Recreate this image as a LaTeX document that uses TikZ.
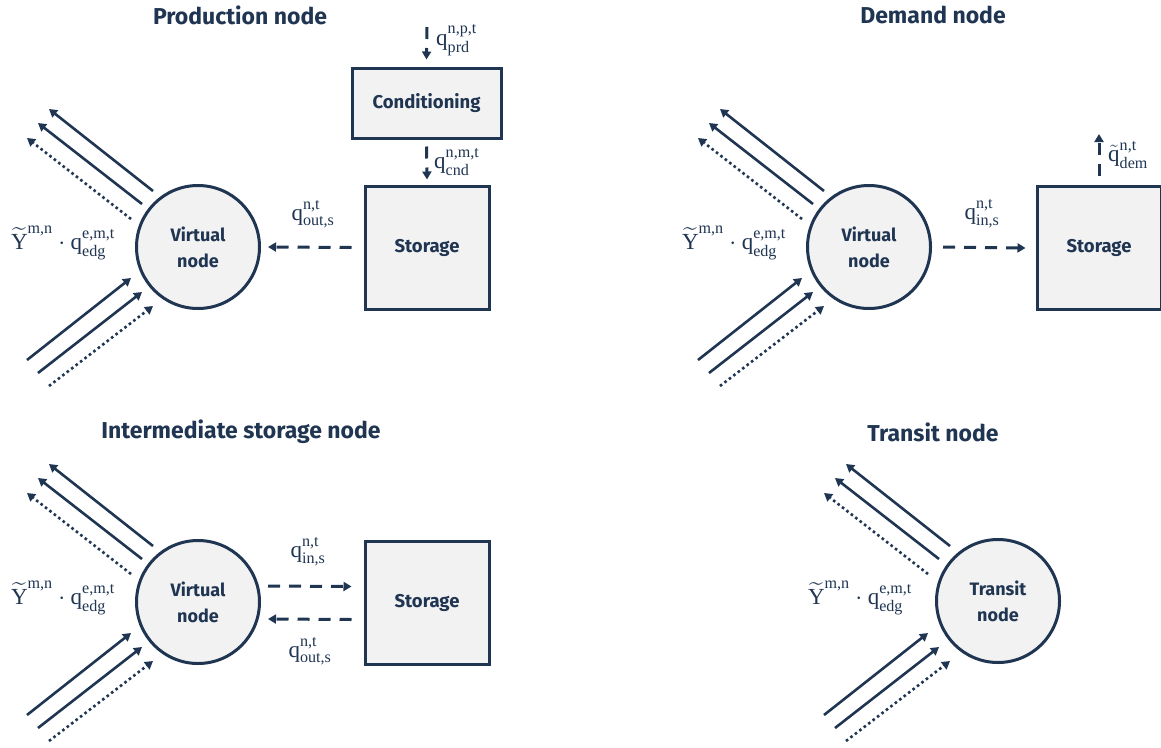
\documentclass[tikz,border=0pt]{standalone}
\usepackage{amsmath}
\usepackage{fontspec}
\setmainfont{Fira Sans}
\newfontfamily\symserif{Liberation Serif}
\usetikzlibrary{arrows.meta}
\definecolor{navy}{HTML}{1F3552}
\definecolor{boxfill}{HTML}{F2F2F2}
% upright serif quantities with stacked scripts
\newcommand\sv[1]{\text{\symserif #1}}
\newcommand\qty[3]{$#1^{\sv{#2}}_{\sv{#3}}$}
\newcommand\flowlabel{$\widetilde{\sv{Y}}^{\sv{m,n}}\cdot\sv{q}^{\sv{e,m,t}}_{\sv{edg}}$}
% bundle of edge arrows on the left of a hub node; #1 = name prefix
\newcommand\edgebundle[1]{%
  \coordinate (#1a1) at (153,191); \coordinate (#1b1) at (49,109);
  \coordinate (#1a2) at (142,204); \coordinate (#1b2) at (38,123);
  \coordinate (#1a3) at (131,219); \coordinate (#1b3) at (27,138);
  \coordinate (#1c1) at (27,360);  \coordinate (#1d1) at (131,278);
  \coordinate (#1c2) at (38,373);  \coordinate (#1d2) at (142,292);
  \coordinate (#1c3) at (49,386);  \coordinate (#1d3) at (153,306);
  \draw[edgearrow] (#1a1) -- (#1b1);
  \draw[edgearrow] (#1a2) -- (#1b2);
  \draw[edgearrow,dotarrow] (#1a3) -- (#1b3);
  \draw[edgearrow] (#1c1) -- (#1d1);
  \draw[edgearrow] (#1c2) -- (#1d2);
  \draw[edgearrow,dotarrow] (#1c3) -- (#1d3);
  \node[mathlbl] (#1lbl) at (63,243) {\flowlabel};
}
\begin{document}
\begin{tikzpicture}[x=1pt,y=-1pt,
  every node/.style={text=navy},
  title/.style={font=\fontsize{23}{26}\selectfont\bfseries},
  hub/.style={circle,draw=navy,fill=boxfill,line width=3pt,minimum size=123pt,
    inner sep=0pt,align=center,font=\fontsize{18}{26}\selectfont\bfseries},
  unit/.style={rectangle,draw=navy,fill=boxfill,line width=3pt,inner sep=0pt,
    align=center,font=\fontsize{18.5}{22}\selectfont\bfseries},
  mathlbl/.style={font=\fontsize{23}{25}\selectfont,inner sep=0pt},
  tip/.style={-{Triangle[length=8pt,width=9pt]}},
  edgearrow/.style={draw=navy,line width=2.6pt,tip},
  dotarrow/.style={dash pattern=on 2.6pt off 3pt},
  dasharrow/.style={draw=navy,line width=3pt,tip,dash pattern=on 12pt off 9pt},
]
\useasboundingbox (0,0) rectangle (1161,747);

% ---------- production node ----------
\node[title] (t1) at (240,15) {Production node};
\node[hub] (vn1) at (198,247) {Virtual\\node};
\node[unit,minimum width=124pt,minimum height=123pt] (st1) at (427,247.5) {Storage};
\node[unit,minimum width=149pt,minimum height=70pt] (cd1) at (426.5,103) {Conditioning};
\coordinate (prd) at (427,27);
\draw[dasharrow] (prd) -- ([yshift=7pt]cd1.north);
\draw[dasharrow] ([yshift=-7pt]cd1.south) -- ([yshift=5pt]st1.north);
\draw[dasharrow] ([xshift=-12pt]st1.west) -- ([xshift=7pt]vn1.east);
\node[mathlbl,anchor=west] (lprd) at (436,40) {\qty{\sv{q}}{n,p,t}{prd}};
\node[mathlbl,anchor=west] (lcnd) at (434,162) {\qty{\sv{q}}{n,m,t}{cnd}};
\node[mathlbl] (lout1) at (313,214) {\qty{\sv{q}}{n,t}{out,s}};
\begin{scope}
  \edgebundle{p}
\end{scope}

% ---------- demand node ----------
\node[title] (t2) at (933,15) {Demand node};
\node[hub] (vn2) at (869,247) {Virtual\\node};
\node[unit,minimum width=124pt,minimum height=123pt] (st2) at (1099,248) {Storage};
\coordinate (dem) at (1099,134);
\draw[dasharrow] ([yshift=9pt]st2.north) -- (dem);
\draw[dasharrow] ([xshift=11pt]vn2.east) -- ([xshift=-10pt]st2.west);
\node[mathlbl,anchor=west] (ldem) at (1108,155) {\qty{\tilde{\sv{q}}}{n,t}{dem}};
\node[mathlbl] (lin2) at (982,214) {\qty{\sv{q}}{n,t}{in,s}};
\begin{scope}[shift={(671,0)}]
  \edgebundle{d}
\end{scope}

% ---------- intermediate storage node ----------
\node[title] (t3) at (241,432) {Intermediate storage node};
\node[hub] (vn3) at (198,602) {Virtual\\node};
\node[unit,minimum width=124pt,minimum height=123pt] (st3) at (427,602.5) {Storage};
\draw[dasharrow] ([shift={(7,-16)}]vn3.east) -- ([shift={(-12,-16)}]st3.west);
\draw[dasharrow] ([shift={(-12,17)}]st3.west) -- ([shift={(7,17)}]vn3.east);
\node[mathlbl] (lin3) at (308,552) {\qty{\sv{q}}{n,t}{in,s}};
\node[mathlbl] (lout3) at (310,651) {\qty{\sv{q}}{n,t}{out,s}};
\begin{scope}[shift={(0,355)}]
  \edgebundle{i}
\end{scope}

% ---------- transit node ----------
\node[title] (t4) at (933,432) {Transit node};
\node[hub] (vn4) at (998,601) {Transit\\node};
\begin{scope}[shift={(797,355)}]
  \edgebundle{r}
\end{scope}
\end{tikzpicture}
\end{document}
